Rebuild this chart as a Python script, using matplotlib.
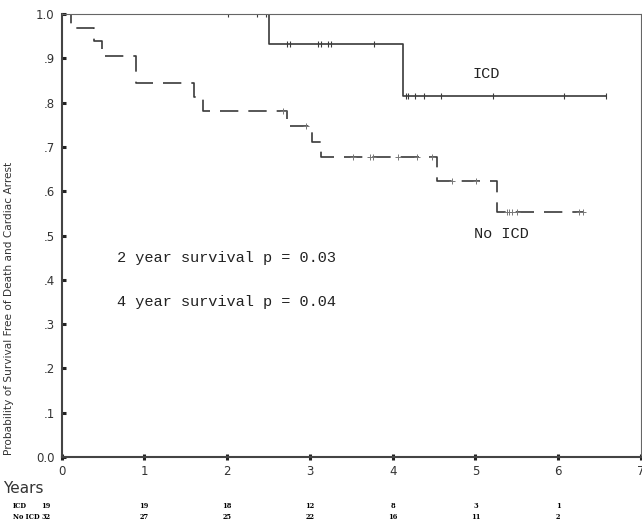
import matplotlib
matplotlib.use("Agg")
import matplotlib.pyplot as plt
import matplotlib.transforms as mtransforms

# ICD group: step times and survival after each step
icd_times = [0.0, 2.51, 4.12]
icd_surv = [1.0, 0.933, 0.816]
icd_end = 6.58
icd_cens_t = [2.01, 2.36, 2.47, 2.73, 2.76, 3.10, 3.14, 3.22, 3.25, 3.77,
              4.16, 4.18, 4.27, 4.38, 4.58, 5.21, 6.07, 6.58]

# No ICD group
no_times = [0.0, 0.12, 0.39, 0.49, 0.90, 1.60, 1.71, 2.73, 3.02, 3.14, 4.53, 5.26]
no_surv = [1.0, 0.969, 0.938, 0.906, 0.844, 0.812, 0.781, 0.747, 0.712, 0.677, 0.622, 0.553]
no_end = 6.30
no_cens_t = [2.67, 2.95, 3.52, 3.73, 3.76, 4.06, 4.29, 4.48, 4.72, 5.01,
             5.38, 5.41, 5.44, 5.50, 6.25, 6.30]

risk_x = [-0.19, 1, 2, 3, 4, 5, 6]
risk_icd = [19, 19, 18, 12, 8, 3, 1]
risk_no = [32, 27, 25, 22, 16, 11, 2]

yticks = [0.0, 0.1, 0.2, 0.3, 0.4, 0.5, 0.6, 0.7, 0.8, 0.9, 1.0]
ylabels = ["0.0", ".1", ".2", ".3", ".4", ".5", ".6", ".7", ".8", ".9", "1.0"]


def surv_at(times, surv, t):
    s = surv[0]
    for ti, si in zip(times, surv):
        if ti <= t:
            s = si
    return s


fig = plt.figure(figsize=(6.42, 5.21), dpi=100, facecolor="white")
ax = fig.add_axes([0.0958, 0.1228, 0.9026, 0.8503])

lc = "#3a3a3a"
ax.step(icd_times + [icd_end], icd_surv + [icd_surv[-1]], where="post",
        color=lc, lw=1.2)
ax.step(no_times + [no_end], no_surv + [no_surv[-1]], where="post",
        color=lc, lw=1.2, dashes=(11, 6))

ax.plot(icd_cens_t, [surv_at(icd_times, icd_surv, t) for t in icd_cens_t],
        ls="none", marker="|", ms=5, mew=0.8, color=lc)
ax.plot(no_cens_t, [surv_at(no_times, no_surv, t) for t in no_cens_t],
        ls="none", marker="+", ms=5, mew=0.7, color="#777777")

mono = "Liberation Mono"
ax.text(5.13, 0.865, "ICD", family=mono, fontsize=11, ha="center", va="center", color="#222")
ax.text(5.31, 0.503, "No ICD", family=mono, fontsize=11, ha="center", va="center", color="#222")
ax.text(0.67, 0.45, "2 year survival p = 0.03", family=mono, fontsize=11, va="center", color="#222")
ax.text(0.67, 0.35, "4 year survival p = 0.04", family=mono, fontsize=11, va="center", color="#222")

ax.set_xlim(0, 7)
ax.set_ylim(0, 1.0)
ax.set_xticks(range(8))
ax.set_yticks(yticks)
ax.set_yticklabels(ylabels)
ax.tick_params(direction="inout", length=4, width=2.2, color="#222",
               labelsize=8.5, labelcolor="#333")
ax.tick_params(axis="y", direction="in", length=3, pad=5)
ax.tick_params(axis="x", pad=4)
for side in ["left", "bottom"]:
    ax.spines[side].set_linewidth(1.5)
    ax.spines[side].set_color("#444")
for side in ["top", "right"]:
    ax.spines[side].set_linewidth(0.8)
    ax.spines[side].set_color("#666")

ax.set_ylabel("Probability of Survival Free of Death and Cardiac Arrest",
              fontsize=7.6, color="#333")
ax.yaxis.set_label_coords(-0.082, 0.335)

fig.text(0.005, 0.063, "Years", fontsize=11, color="#333", va="center")

trans = mtransforms.blended_transform_factory(ax.transData, fig.transFigure)
fig.text(0.02, 0.028, "ICD", fontsize=4.8, family="DejaVu Serif", weight="bold", va="center")
fig.text(0.02, 0.007, "No ICD", fontsize=4.8, family="DejaVu Serif", weight="bold", va="center")
for x, a, b in zip(risk_x, risk_icd, risk_no):
    ax.text(x, 0.028, str(a), transform=trans, fontsize=4.8, family="DejaVu Serif",
            weight="bold", ha="center", va="center")
    ax.text(x, 0.007, str(b), transform=trans, fontsize=4.8, family="DejaVu Serif",
            weight="bold", ha="center", va="center")

fig.savefig("out.png", dpi=100)
